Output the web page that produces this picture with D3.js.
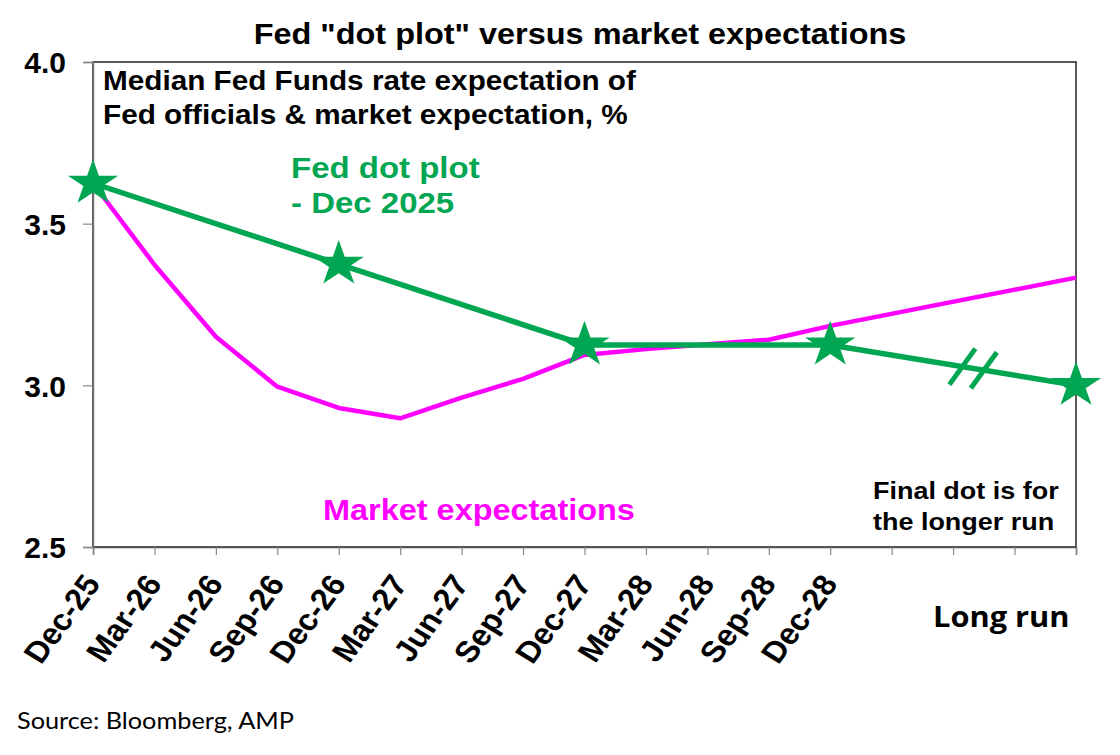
<!DOCTYPE html>
<html>
<head>
<meta charset="utf-8">
<script src="https://cdn.jsdelivr.net/npm/d3@7"></script>
<style>
  body { margin: 0; background: #fff; }
</style>
</head>
<body>
<div id="chart"></div>
<script>
// x positions: quarterly dates, three blank slots, then the long-run slot
var tickLabels = ["Dec-25", "Mar-26", "Jun-26", "Sep-26", "Dec-26", "Mar-27", "Jun-27", "Sep-27",
                  "Dec-27", "Mar-28", "Jun-28", "Sep-28", "Dec-28", "", "", "", ""];
var longRunLabel = "Long run";

// market expectations (null = no point in that slot)
var marketValues = [3.625, 3.373, 3.150, 2.996, 2.930, 2.898, 2.962, 3.020,
                    3.094, 3.112, 3.127, 3.141, 3.184, null, null, null, 3.333];

// Fed dot plot medians, Dec 2025 SEP
var fedSlots = [0, 4, 8, 12, 16];
var fedValues = [3.625, 3.375, 3.125, 3.125, 3.0];

// slots where the "//" break marks sit on the long-run segment
var breakSlots = [14.15, 14.5];

var yTicks = [2.5, 3.0, 3.5, 4.0];

var width = 1120, height = 755;
var margin = { top: 62, right: 44, bottom: 208, left: 93 };

var GREEN = "#00a651", PINK = "#ff00ff";
var ARIAL = "'Liberation Sans', Arial, sans-serif";
var STRETCH = 1.1;   // the source picture is a little wider than tall

var svg = d3.select("#chart").append("svg").attr("width", width).attr("height", height);

var x = d3.scaleLinear().domain([0, tickLabels.length - 1]).range([margin.left, width - margin.right]);
var y = d3.scaleLinear().domain([2.5, 4.0]).range([height - margin.bottom, margin.top]);

// plot frame
svg.append("rect")
    .attr("x", x.range()[0]).attr("y", y.range()[1])
    .attr("width", x.range()[1] - x.range()[0]).attr("height", y.range()[0] - y.range()[1])
    .attr("fill", "none").attr("stroke", "#222").attr("stroke-width", 1.5);

// y axis
var yAxis = svg.append("g").attr("transform", "translate(" + margin.left + ",0)")
    .call(d3.axisLeft(y).tickValues(yTicks).tickFormat(d3.format(".1f")).tickSize(10).tickPadding(17));
yAxis.select(".domain").attr("stroke", "#777").attr("stroke-width", 1.5);
yAxis.selectAll(".tick line").attr("stroke", "#888").attr("stroke-width", 1.2);
yAxis.selectAll(".tick text").attr("font-size", 30).attr("font-weight", "bold").attr("fill", "#000")
    .style("font-family", ARIAL).attr("dy", "0.36em");

// x axis
var xAxis = svg.append("g").attr("transform", "translate(0," + y(2.5) + ")")
    .call(d3.axisBottom(x).tickValues(d3.range(tickLabels.length)).tickFormat(function (i) { return tickLabels[i]; }).tickSize(8));
xAxis.select(".domain").attr("stroke", "#555").attr("stroke-width", 1.5);
xAxis.selectAll(".tick line").attr("stroke", "#888").attr("stroke-width", 1.2);
xAxis.selectAll(".tick text")
    .attr("font-size", 30).attr("font-weight", "bold").attr("fill", "#000")
    .style("font-family", ARIAL)
    .attr("text-anchor", "end")
    .attr("y", 0).attr("dy", 0)
    .attr("transform", "translate(8,37) scale(" + STRETCH + ",1) rotate(-56)");

// market line
var line = d3.line()
    .x(function (d) { return x(d.i); })
    .y(function (d) { return y(d.v); });
var marketPts = marketValues.map(function (v, i) { return { i: i, v: v }; })
    .filter(function (d) { return d.v !== null; });
svg.append("path").datum(marketPts)
    .attr("d", line)
    .attr("fill", "none").attr("stroke", PINK).attr("stroke-width", 4.5).attr("stroke-linejoin", "round");

// fed line
var fedPts = fedSlots.map(function (s, k) { return { i: s, v: fedValues[k] }; });
svg.append("path").datum(fedPts)
    .attr("d", line)
    .attr("fill", "none").attr("stroke", GREEN).attr("stroke-width", 5.5).attr("stroke-linejoin", "round");

// break marks on the long-run segment
var fedAt = d3.scaleLinear().domain(fedSlots).range(fedValues);
svg.selectAll(".brk").data(breakSlots).enter().append("line")
    .attr("class", "brk")
    .attr("x1", function (d) { return x(d) - 13; })
    .attr("y1", function (d) { return y(fedAt(d)) + 18; })
    .attr("x2", function (d) { return x(d) + 13; })
    .attr("y2", function (d) { return y(fedAt(d)) - 18; })
    .attr("stroke", GREEN).attr("stroke-width", 5);

// stars
var star = d3.symbol().type(d3.symbolStar).size(650);
svg.selectAll(".star").data(fedPts).enter().append("path")
    .attr("class", "star")
    .attr("d", star)
    .attr("transform", function (d) { return "translate(" + x(d.i) + "," + y(d.v) + ") scale(" + STRETCH + ",1)"; })
    .attr("fill", GREEN);

// texts (drawn slightly wide, like the source)
function addText(tx, ty, str, size, color, anchor, family, weight) {
    svg.append("text")
        .attr("transform", "translate(" + tx + "," + ty + ") scale(" + STRETCH + ",1)")
        .style("font-family", family || ARIAL)
        .attr("font-size", size).attr("font-weight", weight || "bold").attr("fill", color || "#000")
        .attr("text-anchor", anchor || "start")
        .text(str);
}
addText(580, 44, "Fed \"dot plot\" versus market expectations", 29.5, "#000", "middle");
addText(103, 90, "Median Fed Funds rate expectation of", 27);
addText(103, 124, "Fed officials & market expectation, %", 27);
addText(291, 178, "Fed dot plot", 30, GREEN);
addText(291, 213, "- Dec 2025", 30, GREEN);
addText(323, 520, "Market expectations", 29.5, PINK);
addText(873, 499, "Final dot is for", 24.5);
addText(873, 530, "the longer run", 24.5);
addText(933, 627, longRunLabel, 28, "#000", "start", "'Open Sans', sans-serif", "bold");
addText(17, 729, "Source: Bloomberg, AMP", 23, "#000", "start", "Lato, 'Open Sans', sans-serif", "normal");
</script>
</body>
</html>
